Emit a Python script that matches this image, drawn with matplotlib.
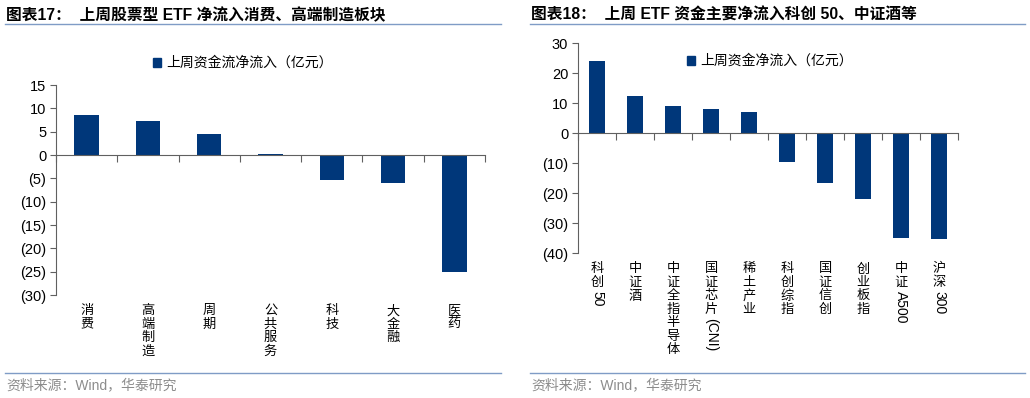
import re
import numpy as np
import matplotlib
matplotlib.use("Agg")
import matplotlib.pyplot as plt
from matplotlib.lines import Line2D
from matplotlib.patches import Patch
from matplotlib.ticker import FuncFormatter

plt.rcParams["font.family"] = ["Liberation Sans", "Noto Sans CJK SC", "DejaVu Sans"]

# data
left_cats = ["消费", "高端制造", "周期", "公共服务", "科技", "大金融", "医药"]
left_vals = [8.6, 7.3, 4.4, 0.3, -5.4, -5.9, -25.0]

right_cats = ["科创50", "中证酒", "中证全指半导体", "国证芯片(CNI)", "稀土产业",
              "科创综指", "国证信创", "创业板指", "中证A500", "沪深300"]
right_vals = [24.2, 12.4, 9.1, 8.1, 7.2, -9.5, -16.7, -22.0, -35.0, -35.1]

left_title = "图表17：  上周股票型 ETF 净流入消费、高端制造板块"
right_title = "图表18：  上周 ETF 资金主要净流入科创 50、中证酒等"
left_legend = "上周资金流净流入（亿元）"
right_legend = "上周资金净流入（亿元）"
source = "资料来源：Wind，华泰研究"

BAR = "#00377A"
LINE = "#7F9CC6"
AXC = "#606060"

fig = plt.figure(figsize=(10.3, 3.98), dpi=100)


def paren(v, pos):
    v = int(round(v))
    return f"({abs(v)})" if v < 0 else f"{v}"


def vertical_label(ax, x, text, renderer, fs=9.5, start=10):
    # stack CJK chars upright, rotate latin runs
    cur = start
    step = fs * 100 / 72 * 1.02
    for seg in re.findall(r"[\u4e00-\u9fff]|[^\u4e00-\u9fff]+", text):
        if re.match(r"[\u4e00-\u9fff]", seg):
            ax.annotate(seg, xy=(x, 0), xycoords=("data", "axes fraction"),
                        xytext=(0, -cur), textcoords="offset pixels",
                        ha="center", va="top", fontsize=fs)
            cur += step
        else:
            cur += 0.5
            t = ax.annotate(seg, xy=(x, 0), xycoords=("data", "axes fraction"),
                            xytext=(0, -cur), textcoords="offset pixels",
                            ha="center", va="top", fontsize=fs + 0.5, rotation=-90)
            bb = t.get_window_extent(renderer)
            cur += bb.height + 1


def panel(rect, cats, vals, ylim, yticks, legend_text, legend_pos):
    ax = fig.add_axes(rect)
    n = len(cats)
    x = np.arange(n)
    ax.bar(x, vals, width=0.4, color=BAR, zorder=2)
    ax.set_xlim(-0.5, n - 0.5)
    ax.set_ylim(*ylim)
    ax.set_yticks(yticks)
    ax.yaxis.set_major_formatter(FuncFormatter(paren))
    ax.tick_params(axis="y", direction="out", length=4, color=AXC, labelsize=10.5, pad=3)
    ax.set_xticks(np.arange(-0.5, n, 1))
    ax.set_xticklabels([])
    ax.tick_params(axis="x", direction="out", length=5, color=AXC)
    for s in ["top", "right"]:
        ax.spines[s].set_visible(False)
    ax.spines["bottom"].set_position(("data", 0))
    ax.spines["bottom"].set_color(AXC)
    ax.spines["left"].set_color(AXC)
    renderer = fig.canvas.get_renderer()
    for i, c in enumerate(cats):
        vertical_label(ax, i, c, renderer)
    fig.legend(handles=[Patch(color=BAR, label=legend_text)], loc="center left",
               bbox_to_anchor=legend_pos, frameon=False, fontsize=10,
               handlelength=0.6, handleheight=0.6, handletextpad=0.35, borderpad=0)
    return ax


panel([56 / 1030, 1 - 295 / 398, (485 - 56) / 1030, 210 / 398],
      left_cats, left_vals, (-30, 15), np.arange(-30, 16, 5),
      left_legend, (146 / 1030, 1 - 63 / 398))
panel([578 / 1030, 1 - 253.3 / 398, (958 - 578) / 1030, 210 / 398],
      right_cats, right_vals, (-40, 30), np.arange(-40, 31, 10),
      right_legend, (680 / 1030, 1 - 61 / 398))

# titles, rules, sources
for x0, x1, title in [(5, 501, left_title), (530, 1025, right_title)]:
    fig.text(x0 / 1030 + 0.001, 1 - 15 / 398, title, fontsize=11.3, fontweight="bold",
             va="center", ha="left")
    fig.add_artist(Line2D([x0 / 1030, x1 / 1030], [1 - 24 / 398] * 2, color=LINE, lw=1))
    fig.add_artist(Line2D([x0 / 1030, x1 / 1030], [1 - 373 / 398] * 2, color=LINE, lw=1))
    fig.text(x0 / 1030 + 0.001, 1 - 385 / 398, source, fontsize=10, color="#8C8C8C",
             va="center", ha="left")

fig.savefig("out.png", dpi=100)
